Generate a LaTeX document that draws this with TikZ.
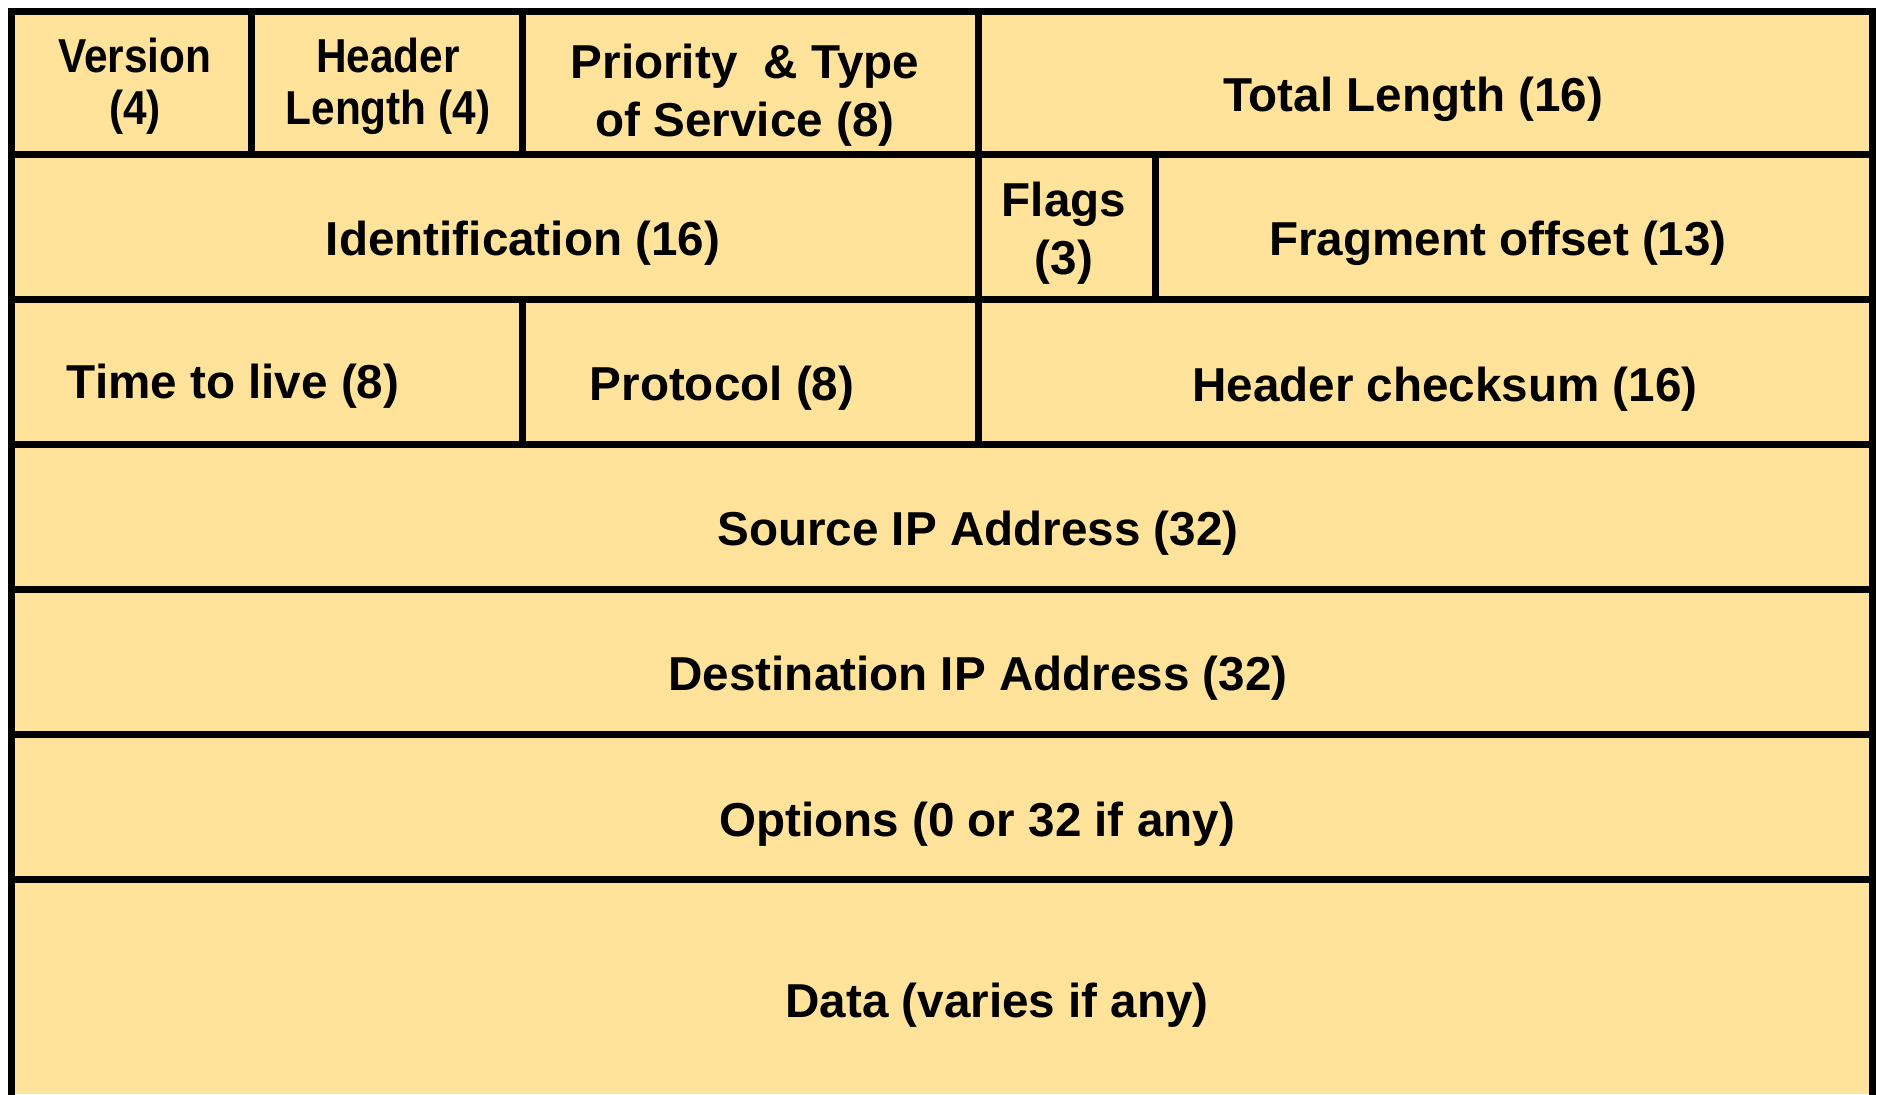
\documentclass[tikz,border=0pt]{standalone}
\usepackage{fontspec}
\setmainfont{Liberation Sans}
\newfontfamily\narrowfont[FakeStretch=0.89]{Liberation Sans}
\definecolor{Cell}{HTML}{FFE39B}

\begin{document}
\begin{tikzpicture}[x=0.5pt,y=-0.5pt,
    field/.style={font=\fontsize{23.8}{26}\selectfont\bfseries,align=center,inner sep=0pt},
    narrow/.style={field,font=\narrowfont\fontsize{23.8}{26}\selectfont\bfseries},
    tall/.style={field,font=\fontsize{23.8}{29}\selectfont\bfseries},
    rule/.style={line width=3.5pt,line cap=rect}]
  \useasboundingbox (0,0) rectangle (1877,1094);
  \fill[Cell] (11,11) rectangle (1872,1094);
  % frame and row rules
  \draw[rule] (11,1094) -- (11,11) -- (1872,11) -- (1872,1094);
  \foreach \y in {154,299,444,589,734,879}
    \draw[rule] (11,\y) -- (1872,\y);
  % column rules
  \draw[rule] (251,11) -- (251,154);
  \draw[rule] (522,11) -- (522,154);
  \draw[rule] (978,11) -- (978,444);
  \draw[rule] (1155,154) -- (1155,299);
  \draw[rule] (522,299) -- (522,444);
  % fields
  \node[narrow] (ver) at (135,86) {Version\\(4)};
  \node[narrow] (hlen) at (388,86) {Header\\Length (4)};
  \node[tall] (tos) at (745,95) {Priority\ \ \& Type\\of Service (8)};
  \node[field] (tlen) at (1413,99) {Total Length (16)};
  \node[field] (ident) at (523,243) {Identification (16)};
  \node[tall] (flags) at (1064,233) {Flags\\(3)};
  \node[field] (frag) at (1498,243) {Fragment offset (13)};
  \node[field] (ttl) at (233,386) {Time to live (8)};
  \node[field] (proto) at (722,388) {Protocol (8)};
  \node[field] (csum) at (1445,389) {Header checksum (16)};
  \node[field] (src) at (978,533) {Source IP Address (32)};
  \node[field] (dst) at (978,678) {Destination IP Address (32)};
  \node[field] (opts) at (977,824) {Options (0 or 32 if any)};
  \node[field] (data) at (997,1005) {Data (varies if any)};
\end{tikzpicture}
\end{document}
